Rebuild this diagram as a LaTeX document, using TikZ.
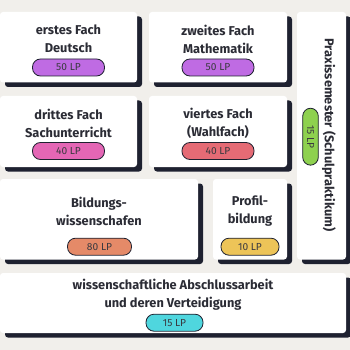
\documentclass[tikz,border=0pt]{standalone}
\usepackage{fontspec}
\setmainfont{Fira Sans}
\usetikzlibrary{shadows}
\definecolor{bg}{HTML}{F1EFEB}
\definecolor{shadowc}{HTML}{1E2130}
\definecolor{titlec}{HTML}{2B2C35}
\definecolor{pilltext}{HTML}{3A3A40}
\definecolor{cpurple}{HTML}{BF6BE3}
\definecolor{cpink}{HTML}{E466B5}
\definecolor{cred}{HTML}{E56B75}
\definecolor{corange}{HTML}{E58A68}
\definecolor{cyellow}{HTML}{EDC458}
\definecolor{cgreen}{HTML}{8ED14F}
\definecolor{ccyan}{HTML}{4FD6DE}
\begin{document}
\begin{tikzpicture}[x=1pt,y=-1pt,
  card/.style={fill=white, rounded corners=3pt, inner sep=0pt,
    general shadow={shadow xshift=5pt, shadow yshift=-4.5pt, fill=shadowc}},
  title/.style={align=center, text=titlec, inner sep=0pt,
    font=\fontsize{12.8}{18}\selectfont\bfseries},
  pill/.style={draw=shadowc, line width=0.8pt, rounded corners=8pt,
    minimum height=17pt, inner sep=0pt, text=pilltext,
    font=\fontsize{10.2}{11}\selectfont}]
\fill[bg] (0,0) rectangle (350,350);
\useasboundingbox (0,0) rectangle (350,350);
% cards
\node[card, minimum width=137pt, minimum height=70.5pt] (c1) at (68.5,47.25) {};
\node[card, minimum width=138pt, minimum height=70.5pt] (c2) at (218,47.25) {};
\node[card, minimum width=137pt, minimum height=71pt] (c3) at (68.5,131.5) {};
\node[card, minimum width=138pt, minimum height=71pt] (c4) at (218,131.5) {};
\node[card, minimum width=49pt, minimum height=247.5pt] (c5) at (321.5,135.75) {};
\node[card, minimum width=198pt, minimum height=80.5pt] (c6) at (99,219.25) {};
\node[card, minimum width=74pt, minimum height=80.5pt] (c7) at (250,219.25) {};
\node[card, minimum width=346pt, minimum height=60pt] (c8) at (173,303) {};
% titles
\node[title] (t1) at (68.5,39) {erstes Fach\\Deutsch};
\node[title] (t2) at (218,39) {zweites Fach\\Mathematik};
\node[title] (t3) at (68.5,123) {drittes Fach\\Sachunterricht};
\node[title] (t4) at (218,123) {viertes Fach\\(Wahlfach)};
\node[title, rotate=-90] (t5) at (329,135) {Praxissemester (Schulpraktikum)};
\node[title] (t6) at (99,211.3) {Bildungs-\\wissenschafen};
\node[title] (t7) at (250,211.3) {Profil-\\bildung};
\node[title] (t8) at (173,295) {wissenschaftliche Abschlussarbeit\\und deren Verteidigung};
% pills
\node[pill, fill=cpurple, minimum width=72pt] (p1) at (68.5,67.5) {50 LP};
\node[pill, fill=cpurple, minimum width=72pt] (p2) at (218,67.5) {50 LP};
\node[pill, fill=cpink, minimum width=72pt] (p3) at (68.5,151) {40 LP};
\node[pill, fill=cred, minimum width=72pt] (p4) at (218,151) {40 LP};
\node[pill, fill=cgreen, minimum width=57pt, minimum height=15.6pt, rotate=-90] (p5) at (310.5,136.7) {15 LP};
\node[pill, fill=corange, minimum width=64pt] (p6) at (99.5,246.7) {80 LP};
\node[pill, fill=cyellow, minimum width=58pt] (p7) at (250,246.7) {10 LP};
\node[pill, fill=ccyan, minimum width=57pt] (p8) at (174.5,322.7) {15 LP};
\end{tikzpicture}
\end{document}
